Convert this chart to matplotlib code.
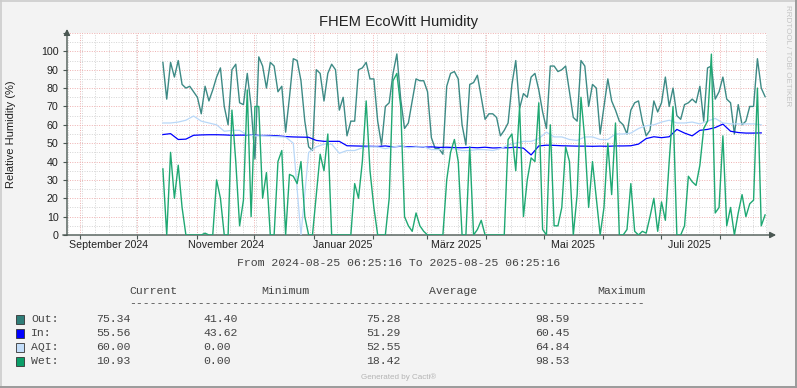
import datetime
import numpy as np
import pandas as pd
import matplotlib
matplotlib.use("Agg")
import matplotlib.pyplot as plt
import matplotlib.dates as mdates
from matplotlib.lines import Line2D
from matplotlib.patches import Rectangle

# time range of the graph
start_time = datetime.datetime(2024, 8, 25, 6, 25, 16)
end_time = datetime.datetime(2025, 8, 25, 6, 25, 16)
first_sample = datetime.datetime(2024, 10, 14, 6, 25, 16)

# Out / Wet read every 2 days, In / AQI every 4 days
out_vals = [94, 74, 94, 86, 95, 82, 80, 81, 78, 75, 66, 81, 73, 79, 86, 91, 70, 60, 90, 93, 72, 71, 88, 70, 41.4,
            97, 92, 80, 94, 92, 78, 81, 56, 75, 96, 95, 84, 62, 48, 46, 90, 88, 73, 88, 93, 90, 68, 75, 54, 62, 62,
            90, 91, 94, 85, 85, 62, 49, 70, 72, 88, 98.6, 74, 58, 61, 73, 85, 84, 84, 78, 53, 47, 47, 44, 81, 88, 89,
            85, 60, 49, 82, 83, 87, 75, 63, 66, 66, 64, 54, 57, 61, 82, 95, 69, 77, 75, 86, 88, 79, 67, 58, 92, 92,
            89, 90, 92, 78, 64, 62, 95, 92, 70, 82, 80, 55, 70, 85, 73, 68, 62, 60, 55, 68, 72, 73, 62, 54, 57, 73,
            67, 72, 86, 70, 80, 65, 63, 71, 72, 74, 72, 81, 62, 91, 92, 74, 78, 86, 74, 72, 55, 71, 60, 62, 70, 70,
            96, 80, 75.34]
wet_vals = [36, 0, 45, 20, 38, 15, 0, 0, 0, 0, 0, 1, 0, 0, 30, 20, 0, 0, 68, 40, 5, 19, 79, 10, 70,
            70, 20, 34, 0, 0, 40, 46, 0, 33, 32, 28, 40, 10, 0, 0, 22, 44, 35, 55, 0, 0, 0, 0, 0, 0, 28,
            20, 40, 73, 35, 15, 0, 0, 0, 20, 84, 88, 70, 10, 5, 2, 12, 5, 2, 0, 0, 0, 0, 0, 30, 45, 52,
            40, 0, 0, 48, 0, 3, 8, 0, 0, 0, 0, 0, 0, 52, 55, 35, 70, 10, 30, 42, 40, 72, 3, 0, 60, 5,
            5, 15, 48, 40, 0, 22, 75, 52, 15, 40, 20, 0, 15, 50, 22, 61, 0, 0, 3, 28, 2, 0, 2, 1, 10, 20,
            2, 18, 8, 40, 70, 0, 0, 5, 32, 29, 27, 38, 58, 62, 98.5, 12, 15, 54, 5, 15, 0, 12, 22, 10, 17, 19,
            80, 5, 10.93]
in_vals = [54.7, 55.2, 52.0, 52.2, 54.3, 54.5, 54.6, 54.6, 54.5, 54.3, 54.4, 54.4, 54.3, 54.2, 54.2, 54.0,
           53.6, 53.4, 53.3, 53.2, 51.5, 51.0, 51.0, 51.0, 48.6, 48.5, 48.4, 48.3, 48.2, 48.5, 48.0, 48.3,
           48.0, 48.2, 47.8, 48.0, 47.7, 47.8, 47.6, 47.5, 47.7, 47.5, 47.8, 47.4, 47.5, 47.5, 47.8, 47.3,
           43.6, 48.5, 48.9, 48.8, 48.6, 48.5, 48.4, 48.4, 48.3, 48.4, 48.3, 48.5, 48.5, 48.6, 49.5, 52.5,
           53.5, 53.0, 53.5, 57.5, 55.5, 54.0, 57.0, 57.5, 58.5, 60.4, 56.5, 55.8, 55.5, 55.5, 55.6]
aqi_vals = [61, 61, 61.5, 62.5, 64.8, 62, 61, 60, 56.5, 57, 57, 54.5, 54, 54, 53.8, 53.5, 53.3, 50, 0,
            45, 48, 49.5, 49.5, 44.5, 46, 46, 47.5, 48, 48, 47, 48, 48.5, 47.5, 48, 48, 46.5, 46.5, 47, 47,
            46, 46, 46.5, 46.5, 46, 47, 49, 50, 51, 51, 52.5, 56, 53.4, 53.4, 52, 51.5, 53.4, 53.4, 52, 52,
            55, 55, 55.5, 58, 59.5, 60, 61.5, 62.5, 61, 61, 61.5, 60.5, 62, 63.5, 61, 60.5, 60.5, 60.5,
            60.5, 60]

series_names = ["Out:", "In:", "AQI:", "Wet:"]
series_colors = ["#2f7d78", "#0000ff", "#c4defa", "#0a9e68"]
line_colors = ["#3d8a85", "#0000ff", "#b9d8f8", "#1fa873"]
stat_current = ["75.34", "55.56", "60.00", "10.93"]
stat_min = ["41.40", "43.62", "0.00", "0.00"]
stat_avg = ["75.28", "51.29", "52.55", "18.42"]
stat_max = ["98.59", "60.45", "64.84", "98.53"]

month_labels = ["September 2024", "November 2024", "Januar 2025", "März 2025", "Mai 2025", "Juli 2025"]
label_months = [(2024, 9), (2024, 11), (2025, 1), (2025, 3), (2025, 5), (2025, 7)]

t_out = pd.date_range(first_sample, periods=len(out_vals), freq="2D")
t_in = pd.date_range(first_sample, periods=len(in_vals), freq="4D")

W, H = 797, 388
BG = "#f3f3f3"
AXC = "#4a5752"
TXT = "#222222"
SANS = "Liberation Sans"
MONO = "Liberation Mono"


def fx(px):
    return px / W


def fy(py):
    return 1 - py / H


fig = plt.figure(figsize=(W / 100, H / 100), dpi=100, facecolor=BG)
ax = fig.add_axes([fx(67), fy(235), fx(700), 202 / H])
ax.set_facecolor("white")

ax.plot(t_out, out_vals, color=line_colors[0], lw=1.0, zorder=3)
ax.plot(t_in, in_vals, color=line_colors[1], lw=0.9, zorder=4)
ax.plot(t_in, aqi_vals, color=line_colors[2], lw=0.9, zorder=5)
ax.plot(t_out, wet_vals, color=line_colors[3], lw=1.0, zorder=6)

ax.set_xlim(start_time, end_time)
ax.set_ylim(0, 110)

ax.xaxis.set_major_locator(mdates.MonthLocator())
ax.xaxis.set_minor_locator(mdates.WeekdayLocator(byweekday=mdates.MO))
ax.xaxis.set_major_formatter(plt.NullFormatter())
ax.yaxis.set_major_locator(plt.MultipleLocator(10))
ax.yaxis.set_minor_locator(plt.MultipleLocator(5))
ax.yaxis.set_major_formatter(plt.FuncFormatter(lambda v, p: "%d" % v if v <= 100 else ""))

ax.grid(which="major", color="#eeb0b0", lw=0.7, linestyle=(0, (1, 1.5)), zorder=1)
ax.grid(which="minor", color="#d4d4d4", lw=0.7, linestyle=(0, (1, 1.5)), zorder=0)
ax.set_axisbelow(True)

for s in ["top", "right", "left", "bottom"]:
    ax.spines[s].set_visible(False)
ax.tick_params(axis="y", which="major", length=3, width=0.8, color=AXC, pad=3,
               labelsize=7.7, labelcolor=TXT)
ax.tick_params(axis="x", which="major", length=3, width=0.8, color=AXC, labelsize=0)
ax.tick_params(which="minor", length=0)
for lab in ax.get_yticklabels():
    lab.set_fontfamily(SANS)

# axis lines with arrows
ax.annotate("", xy=(0, 1.02), xytext=(0, 0), xycoords="axes fraction",
            arrowprops=dict(arrowstyle="-|>,head_length=0.35,head_width=0.18", color=AXC, lw=1.0,
                            shrinkA=0, shrinkB=0))
ax.annotate("", xy=(1.013, 0), xytext=(-0.006, 0), xycoords="axes fraction",
            arrowprops=dict(arrowstyle="-|>,head_length=0.35,head_width=0.18", color=AXC, lw=1.0,
                            shrinkA=0, shrinkB=0))

# month labels centred half a month after the month start
for (yr, mo), lab in zip(label_months, month_labels):
    t = datetime.datetime(yr, mo, 1) + datetime.timedelta(days=15)
    ax.text(t, -0.05, lab, transform=ax.get_xaxis_transform(), ha="center", va="center",
            fontsize=7.7, family=SANS, color=TXT)

fig.text(0.5, fy(22), "FHEM EcoWitt Humidity", ha="center", va="center",
         fontsize=10.6, family=SANS, color=TXT)
fig.text(fx(11), fy(134), "Relative Humidity (%)", rotation=90, ha="center", va="center",
         fontsize=8, family=SANS, color=TXT)
fig.text(fx(787), fy(56), "RRDTOOL / TOBI OETIKER", rotation=270, ha="center", va="center",
         fontsize=5.8, family=SANS, color="#c4c4c4")

# legend block
mono = dict(family=MONO, fontsize=8.25, color="#444444", va="center", ha="left")
fig.text(0.5, fy(263), "From 2024-08-25 06:25:16 To 2025-08-25 06:25:16",
         **{**mono, "ha": "center"})
for x, h in zip([129, 261, 429, 597], ["Current", "Minimum", "Average", "Maximum"]):
    fig.text(fx(x), fy(291), h, **mono)
fig.text(fx(129), fy(303), "-" * 75, **mono)

row_y = [319, 333, 347, 361]
for i, name in enumerate(series_names):
    y = row_y[i]
    fig.add_artist(Rectangle((fx(15.5), fy(y + 4.5)), 8 / W, 9 / H, transform=fig.transFigure,
                             facecolor=series_colors[i], edgecolor="#333333", lw=0.6))
    fig.text(fx(31), fy(y), name, **mono)
    fig.text(fx(96), fy(y), stat_current[i], **mono)
    fig.text(fx(203), fy(y), stat_min[i], **mono)
    fig.text(fx(366), fy(y), stat_avg[i], **mono)
    fig.text(fx(535), fy(y), stat_max[i], **mono)

fig.text(0.5, fy(377), "Generated by Cacti®", ha="center", va="center",
         fontsize=5.8, family=SANS, color="#b4b4b4")

# frame around the image
fig.add_artist(Line2D([0, 1], [fy(0.5), fy(0.5)], transform=fig.transFigure, color="#cccccc", lw=1.2))
fig.add_artist(Line2D([fx(0.5), fx(0.5)], [0, 1], transform=fig.transFigure, color="#cccccc", lw=1.2))
fig.add_artist(Line2D([0, 1], [fy(H - 1), fy(H - 1)], transform=fig.transFigure, color="#9a9a9a", lw=1.4))
fig.add_artist(Line2D([fx(W - 1), fx(W - 1)], [0, 1], transform=fig.transFigure, color="#9a9a9a", lw=1.4))

fig.savefig("out.png", dpi=100, facecolor=BG)
